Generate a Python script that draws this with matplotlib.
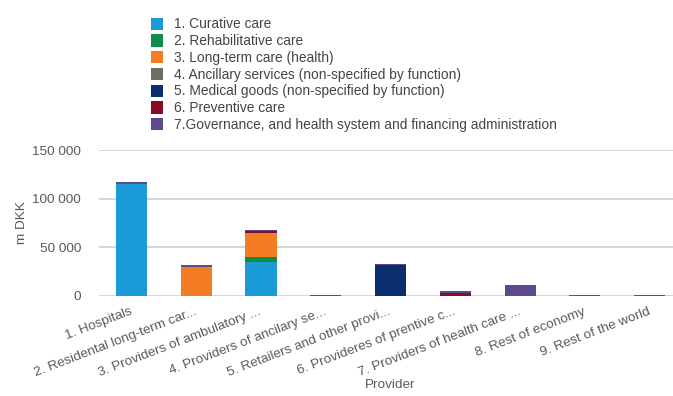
import matplotlib
matplotlib.use("Agg")
import matplotlib.pyplot as plt
from matplotlib.patches import Patch
import numpy as np

plt.rcParams['font.family'] = ['Liberation Sans', 'DejaVu Sans']

providers = ['1. Hospitals', '2. Residental long-term car...', '3. Providers of ambulatory ...',
             '4. Providers of ancilary se...', '5. Retailers and other provi...',
             '6. Provideres of prentive c...', '7. Providers of health care ...',
             '8. Rest of economy', '9. Rest of the world']

functions = ['1. Curative care', '2. Rehabilitative care', '3. Long-term care (health)',
             '4. Ancillary services (non-specified by function)',
             '5. Medical goods (non-specified by function)', '6. Preventive care',
             '7.Governance, and health system and financing administration']

# m DKK per provider, one list per function
curative       = [115000, 0, 35000, 0, 0, 0, 0, 0, 0]
rehabilitative = [0, 0, 4800, 0, 0, 0, 0, 0, 0]
long_term      = [0, 30000, 24600, 0, 0, 0, 0, 0, 0]
ancillary      = [0, 0, 0, 0, 0, 0, 0, 0, 0]
medical_goods  = [0, 0, 0, 0, 31500, 0, 0, 0, 0]
preventive     = [500, 0, 2400, 0, 0, 3200, 0, 0, 0]
governance     = [2000, 2300, 1400, 1200, 1000, 2300, 11500, 1200, 1200]

colors = ['#1a9ad6', '#0e8c48', '#f47c22', '#6e6e62', '#0b2f6e', '#8a0a2c', '#5b4a8c']

series = [curative, rehabilitative, long_term, ancillary, medical_goods, preventive, governance]

fig = plt.figure(figsize=(6.73, 3.96), dpi=100)
ax = fig.add_axes([99 / 673, 1 - 296 / 396, 1 - 99 / 673, 146 / 396])

x = np.arange(len(providers))
bottom = np.zeros(len(providers))
for vals, col in zip(series, colors):
    vals = np.array(vals, dtype=float)
    ax.bar(x, vals, 0.48, bottom=bottom, color=col, zorder=3)
    bottom += vals

ax.set_xlim(-0.5, 8.36)
ax.set_ylim(0, 150000)
ax.set_yticks([0, 50000, 100000, 150000])
ax.set_yticklabels(['0', '50 000', '100 000', '150 000'])
ax.yaxis.grid(True, color='#cdd6d6', linewidth=1.3, zorder=0)
for s in ax.spines.values():
    s.set_visible(False)

ax.set_xticks(x)
ax.set_xticklabels(providers)
ax.tick_params(axis='both', length=0, colors='#5a5a5a', labelsize=9.7)
ax.tick_params(axis='y', pad=13)
ax.tick_params(axis='x', pad=11)
plt.setp(ax.get_xticklabels(), rotation=21, ha='right', va='center', rotation_mode='anchor')

ax.set_ylabel('m DKK', color='#5a5a5a', fontsize=9.7)
ax.yaxis.set_label_coords(-71 / 574, 0.5)
ax.set_xlabel('Provider', color='#5a5a5a', fontsize=9.7)
ax.xaxis.set_label_coords((390 - 99) / 574, -83 / 146)

handles = [Patch(facecolor=c, edgecolor='none') for c in colors]
fig.legend(handles, functions, loc='upper left', bbox_to_anchor=(145 / 673, 1 - 12 / 396),
           frameon=False, fontsize=9.9, labelspacing=0.2, handlelength=0.9,
           handleheight=1.0, handletextpad=0.8, labelcolor='#444444', borderaxespad=0)

fig.savefig('out.png', dpi=100)
